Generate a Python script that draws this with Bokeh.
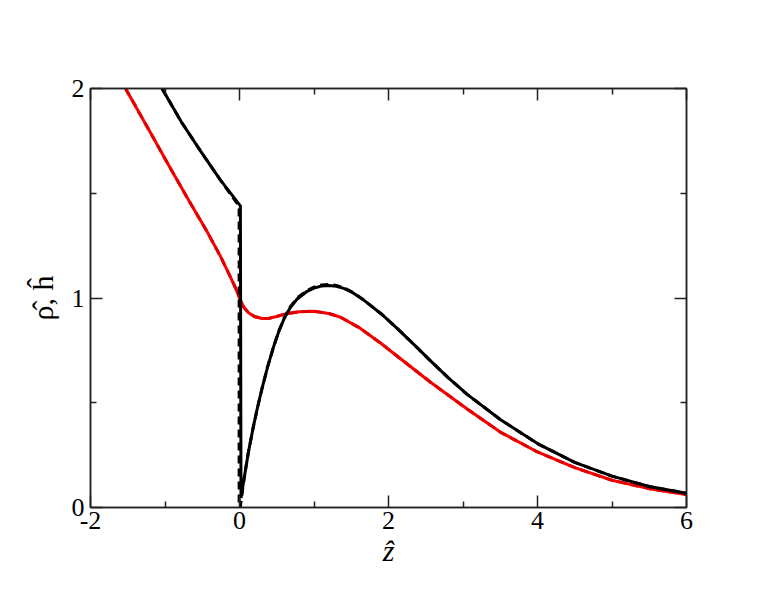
from bokeh.plotting import figure
from bokeh.models import FixedTicker, Range1d, LinearAxis
from bokeh.embed import file_html
from bokeh.resources import INLINE

# black solid: h (hat)
bk_x = [-1.04, -0.78, -0.52, -0.26, 0.004, 0.012, 0.02, 0.06, 0.12, 0.18, 0.237, 0.3, 0.38, 0.46, 0.53, 0.6,
        0.68, 0.774, 0.9, 1.0, 1.1, 1.2, 1.3, 1.4, 1.52, 1.668, 1.9, 2.116, 2.35, 2.564, 2.8, 3.056, 3.5, 4.0,
        4.5, 5.0, 5.5, 6.0]
bk_y = [2.0, 1.84, 1.70, 1.565, 1.443, 1.443, 0.045, 0.135, 0.265, 0.375, 0.47, 0.565, 0.675, 0.77, 0.842, 0.902,
        0.953, 0.995, 1.03, 1.047, 1.057, 1.06, 1.056, 1.046, 1.025, 0.99, 0.925, 0.855, 0.775, 0.70, 0.62, 0.54,
        0.42, 0.305, 0.215, 0.15, 0.10, 0.068]
# black dashed
bd_x = [-1.04, -0.78, -0.52, -0.26, -0.005, -0.005, 0.01, 0.06, 0.12, 0.18, 0.237, 0.3, 0.38, 0.46, 0.53, 0.6,
        0.68, 0.774, 0.9, 1.0, 1.1, 1.2, 1.3, 1.4, 1.52, 1.668, 1.9, 2.116, 2.35, 2.564, 2.8, 3.056, 3.5, 4.0,
        4.5, 5.0, 5.5, 6.0]
bd_y = [2.0, 1.84, 1.70, 1.565, 1.438, 0.0, 0.0, 0.135, 0.265, 0.375, 0.47, 0.565, 0.675, 0.77, 0.845, 0.905,
        0.957, 1.0, 1.035, 1.052, 1.062, 1.065, 1.06, 1.049, 1.027, 0.99, 0.925, 0.855, 0.775, 0.70, 0.62, 0.54,
        0.42, 0.305, 0.215, 0.15, 0.10, 0.068]
# red solid: rho (hat)
rd_x = [-1.53, -1.2, -0.926, -0.68, -0.434, -0.25, -0.121, -0.05, 0.013, 0.06, 0.12, 0.2, 0.3, 0.4, 0.5, 0.617,
        0.8, 0.997, 1.2, 1.356, 1.6, 1.893, 2.161, 2.564, 3.056, 3.5, 4.0, 4.5, 5.0, 5.5, 6.0]
rd_y = [2.0, 1.792, 1.618, 1.465, 1.316, 1.195, 1.10, 1.045, 0.99, 0.955, 0.93, 0.912, 0.902, 0.903, 0.912, 0.924,
        0.934, 0.937, 0.926, 0.908, 0.86, 0.785, 0.71, 0.598, 0.47, 0.36, 0.265, 0.19, 0.13, 0.09, 0.062]

x_major = [-2, 0, 2, 4, 6]
x_minor = [-1, 1, 3, 5]
y_major = [0, 1, 2]
y_minor = [0.5, 1.5]
x_labels = {-2: "-2", 0: "0", 2: "2", 4: "4", 6: "6"}
y_labels = {0: "0", 1: "1", 2: "2"}

p = figure(width=756, height=580, output_backend="svg", toolbar_location=None,
           x_range=Range1d(-2, 6), y_range=Range1d(0, 2),
           min_border_left=90, min_border_right=70, min_border_top=88, min_border_bottom=73)
p.xgrid.visible = False
p.ygrid.visible = False
p.outline_line_color = "#222222"
p.outline_line_width = 1.5

p.line(rd_x, rd_y, line_color="#ff0000", line_width=3)
p.line(rd_x, rd_y, line_color="#e00000", line_width=3, line_dash="8 5")
p.line(bd_x, bd_y, line_color="black", line_width=3, line_dash="8 5")
p.line(bk_x, bk_y, line_color="black", line_width=3)

FONT = "Liberation Serif"
xb = p.below[0]
yl = p.left[0]
xb.ticker = FixedTicker(ticks=x_major, minor_ticks=x_minor)
xb.major_label_overrides = x_labels
yl.ticker = FixedTicker(ticks=y_major, minor_ticks=y_minor)
yl.major_label_overrides = y_labels

top = LinearAxis(ticker=FixedTicker(ticks=x_major, minor_ticks=x_minor),
                 major_label_text_font_size="0px", major_label_standoff=0)
right = LinearAxis(ticker=FixedTicker(ticks=y_major, minor_ticks=y_minor),
                   major_label_text_font_size="0px", major_label_standoff=0)
p.add_layout(top, "above")
p.add_layout(right, "right")

for ax in (xb, yl, top, right):
    ax.axis_line_color = "#222222"
    ax.axis_line_width = 1.5
    ax.major_tick_in = 12
    ax.major_tick_out = 0
    ax.minor_tick_in = 6
    ax.minor_tick_out = 0
    ax.major_tick_line_color = "#222222"
    ax.minor_tick_line_color = "#222222"
    ax.major_tick_line_width = 1.5
    ax.minor_tick_line_width = 1.5
    ax.major_label_text_font = FONT
    ax.major_label_text_color = "black"

xb.major_label_text_font_size = "26px"
yl.major_label_text_font_size = "26px"
xb.major_label_standoff = 4
yl.major_label_standoff = 6

xb.axis_label = "ẑ"
xb.axis_label_text_font = FONT
xb.axis_label_text_font_style = "italic"
xb.axis_label_text_font_size = "30px"
xb.axis_label_text_color = "black"
xb.axis_label_standoff = 2
yl.axis_label = "ρ̂, ĥ"
yl.axis_label_text_font = FONT
yl.axis_label_text_font_style = "normal"
yl.axis_label_text_font_size = "30px"
yl.axis_label_text_color = "black"
yl.axis_label_standoff = 10

open("out.html", "w").write(file_html(p, INLINE))
